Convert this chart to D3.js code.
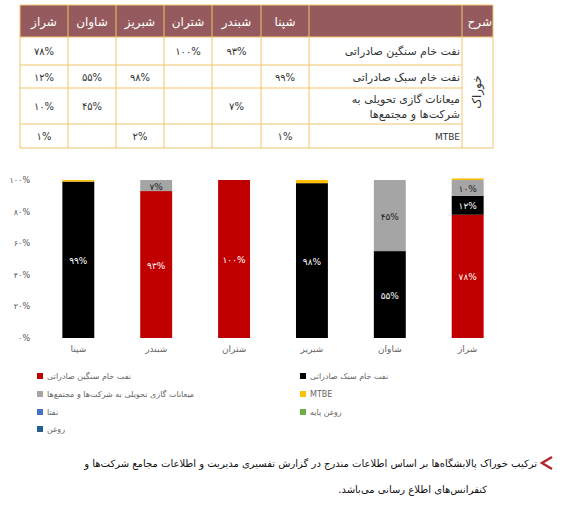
<!DOCTYPE html>
<html><head><meta charset="utf-8">
<script src="https://cdn.jsdelivr.net/npm/d3@7"></script>
<style>
body{margin:0;background:#fff;font-family:"DejaVu Sans",sans-serif}
</style></head>
<body><svg id="c" width="571" height="528"></svg>
<script>
var refineries = ['شپنا', 'شبندر', 'شتران', 'شبریز', 'شاوان', 'شراز']
var seriesNames = ['نفت خام سنگین صادراتی', 'نفت خام سبک صادراتی', 'میعانات گازی تحویلی به شرکت‌ها و مجتمع‌ها', 'MTBE', 'نفتا', 'روغن پایه', 'روغن']
var seriesColors = ['#c00000', '#000000', '#a5a5a5', '#ffc000', '#4472c4', '#70ad47', '#255e91']
var heavy = [0, 93, 100, 0, 0, 78]
var light = [99, 0, 0, 98, 55, 12]
var gas = [0, 7, 0, 0, 45, 10]
var mtbe = [1, 0, 0, 2, 0, 1]
var yTicks = [0, 20, 40, 60, 80, 100]
var tableRows = ['نفت خام سنگین صادراتی', 'نفت خام سبک صادراتی', 'میعانات گازی تحویلی به|شرکت‌ها و مجتمع‌ها', 'MTBE']
var caption1 = 'ترکیب خوراک پالایشگاه‌ها بر اساس اطلاعات مندرج در گزارش تفسیری مدیریت و اطلاعات مجامع شرکت‌ها و'
var caption2 = 'کنفرانس‌های اطلاع رسانی می‌باشد.'

var fa = function(s) { return String(s).replace(/\d/g, function(d) { return '۰۱۲۳۴۵۶۷۸۹'[d] }) }
var pct = function(v) { return v ? fa(v) + '%' : '' }
var svg = d3.select('#c')
var series = [heavy, light, gas, mtbe]

// table
var tcols = [20, 68, 116, 164, 212, 261, 309, 462, 493]
var trows = [5, 37, 65, 88, 124, 148]
var brown = '#955a5e', gold = '#f2c46d'
var tbl = svg.append('g')
tbl.append('rect').attr('x', 20).attr('y', 5).attr('width', 473).attr('height', 32).attr('fill', brown)
var colOrder = ['شراز', 'شاوان', 'شبریز', 'شتران', 'شبندر', 'شپنا']
tcols.forEach(function(x, i) {
	if (i == 7) {
		tbl.append('line').attr('x1', x).attr('x2', x).attr('y1', 5).attr('y2', 148).attr('stroke', gold)
	} else {
		tbl.append('line').attr('x1', x).attr('x2', x).attr('y1', 5).attr('y2', 148).attr('stroke', gold)
	}
})
trows.forEach(function(y, i) {
	var full = i == 0 || i == 1 || i == 5
	tbl.append('line').attr('x1', 20).attr('x2', full ? 493 : 462).attr('y1', y).attr('y2', y).attr('stroke', gold)
})
colOrder.forEach(function(name, i) {
	tbl.append('text').attr('x', (tcols[i] + tcols[i+1]) / 2).attr('y', 26).attr('text-anchor', 'middle')
		.attr('fill', '#fff').attr('font-size', 12).text(name)
	var k = refineries.indexOf(name)
	series.forEach(function(s, r) {
		tbl.append('text').attr('x', (tcols[i] + tcols[i+1]) / 2).attr('y', (trows[r+1] + trows[r+2]) / 2 + 4)
			.attr('text-anchor', 'middle').attr('fill', '#333').attr('font-size', 10).text(pct(s[k]))
	})
})
tbl.append('text').attr('x', 492).attr('y', 26).attr('text-anchor', 'end').attr('fill', '#fff').attr('font-size', 12).text('شرح')
tableRows.forEach(function(t, r) {
	var parts = t.split('|')
	parts.forEach(function(p, j) {
		tbl.append('text').attr('x', 460).attr('y', (trows[r+1] + trows[r+2]) / 2 + 4 + (j - (parts.length - 1) / 2) * 15)
			.attr('direction', 'rtl').attr('text-anchor', 'start').attr('fill', '#333').attr('font-size', r == 3 ? 9 : 11).text(p)
	})
})
tbl.append('text').attr('transform', 'translate(481,92) rotate(-90)').attr('text-anchor', 'middle')
	.attr('fill', '#333').attr('font-size', 12).text('خوراک')

// chart
var x = d3.scaleBand().domain(refineries).range([39, 507]).paddingInner(0.59).paddingOuter(0.3)
var y = d3.scaleLinear().domain([0, 100]).range([338, 180])
var yAxis = svg.append('g').attr('transform', 'translate(33,0)')
	.call(d3.axisLeft(y).tickValues(yTicks).tickSize(0).tickFormat(function(d) { return fa(d) + '%' }))
yAxis.select('.domain').remove()
yAxis.selectAll('text').attr('font-size', 8).attr('fill', '#555').attr('font-family', 'DejaVu Sans')

var stack = d3.stack().keys([0, 1, 2, 3]).value(function(d, k) { return series[k][d] })
var layers = stack(d3.range(refineries.length))
layers.forEach(function(layer, k) {
	svg.append('g').selectAll('rect').data(layer).join('rect')
		.attr('x', function(d, i) { return x(refineries[i]) })
		.attr('width', x.bandwidth())
		.attr('y', function(d) { return y(d[1]) })
		.attr('height', function(d) { return y(d[0]) - y(d[1]) })
		.attr('fill', seriesColors[k])
	if (k < 3) svg.append('g').selectAll('text').data(layer).join('text')
		.attr('x', function(d, i) { return x(refineries[i]) + x.bandwidth() / 2 })
		.attr('y', function(d) { return (y(d[0]) + y(d[1])) / 2 + 4 })
		.attr('text-anchor', 'middle').attr('font-size', 9)
		.attr('fill', k == 2 ? '#222' : '#fff')
		.text(function(d, i) { return pct(series[k][i]) })
})
var xAxis = svg.append('g').attr('transform', 'translate(0,338)').call(d3.axisBottom(x).tickSize(0).tickPadding(8))
xAxis.select('.domain').remove()
xAxis.selectAll('text').attr('font-size', 9).attr('fill', '#666').attr('font-family', 'DejaVu Sans')

// legend
var legPos = [[37, 378], [300, 378], [37, 396], [300, 396], [37, 414], [300, 414], [37, 431]]
var leg = svg.append('g').selectAll('g').data(seriesNames).join('g')
	.attr('transform', function(d, i) { return 'translate(' + legPos[i][0] + ',' + legPos[i][1] + ')' })
leg.append('rect').attr('y', -5).attr('width', 6).attr('height', 6).attr('fill', function(d, i) { return seriesColors[i] })
leg.append('text').attr('x', 10).attr('y', 1).attr('font-size', 8).attr('fill', '#666').attr('direction', 'rtl')
	.attr('text-anchor', 'end').text(function(d) { return d })

// caption
svg.append('path').attr('d', 'M552,457 L542,463 L552,469').attr('fill', 'none').attr('stroke', '#b0282e').attr('stroke-width', 2.5)
svg.append('text').attr('x', 537).attr('y', 467).attr('direction', 'rtl').attr('font-size', 10).attr('fill', '#111').text(caption1)
svg.append('text').attr('x', 487).attr('y', 493).attr('direction', 'rtl').attr('font-size', 10).attr('fill', '#111').text(caption2)
</script></body></html>
